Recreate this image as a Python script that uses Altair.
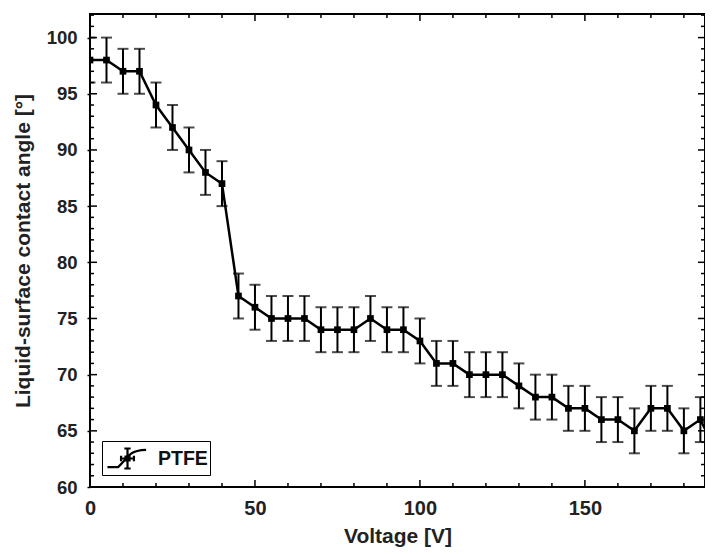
import altair as alt
import pandas as pd

# ---- data ----
voltage = list(range(0, 195, 5))
angle = [98, 98, 97, 97, 94, 92, 90, 88, 87,
         77, 76, 75, 75, 75, 74, 74, 74, 75, 74, 74,
         73, 71, 71, 70, 70, 70, 69, 68, 68, 67, 67,
         66, 66, 65, 67, 67, 65, 66, 63]
err = [2] * len(voltage)
series = ["PTFE"] * len(voltage)

x_labels = [0, 50, 100, 150]
y_labels = [60, 65, 70, 75, 80, 85, 90, 95, 100]
x_minor = [v for v in range(0, 190, 10) if v not in x_labels]
y_minor = [v for v in range(60, 103) if v not in y_labels]

X_DOMAIN = [0, 186.4]
Y_DOMAIN = [60, 102.1]
W, H = 615, 473
FONT = "Liberation Sans"

df = pd.DataFrame({"V": voltage, "A": angle, "E": err, "s": series})
df["lo"] = df["A"] - df["E"]
df["hi"] = df["A"] + df["E"]

xs = alt.Scale(domain=X_DOMAIN, nice=False, zero=False)
ys = alt.Scale(domain=Y_DOMAIN, nice=False, zero=False)

xaxis = alt.Axis(values=x_labels, title="Voltage [V]", ticks=False, tickSize=0,
                 domain=False, grid=False, labelFlush=False, labelPadding=11,
                 labelFontSize=20, titlePadding=7)
yaxis = alt.Axis(values=y_labels, title="Liquid-surface contact angle [°]",
                 ticks=True, tickSize=3, tickWidth=1.5, tickColor="black",
                 domain=False, grid=False, labelFontSize=18.5,
                 labelPadding=10, titlePadding=13)

base = alt.Chart(df)

err_rule = base.mark_rule(color="black", strokeWidth=2, clip=True).encode(
    x=alt.X("V:Q", scale=xs, axis=xaxis),
    y=alt.Y("lo:Q", scale=ys, axis=yaxis),
    y2="hi:Q",
)
cap_lo = base.mark_tick(color="black", orient="horizontal", size=11,
                        thickness=2, clip=True).encode(
    x=alt.X("V:Q", scale=xs), y=alt.Y("lo:Q", scale=ys))
cap_hi = base.mark_tick(color="black", orient="horizontal", size=11,
                        thickness=2, clip=True).encode(
    x=alt.X("V:Q", scale=xs), y=alt.Y("hi:Q", scale=ys))

legend_path = ("M-1.4,0.6L-0.65,0.6L0.2,-0.3Q0.6,-0.6 1.3,-0.6"
               "M0,-0.7L0,0.7M-0.22,-0.7L0.22,-0.7M-0.22,0.7L0.22,0.7"
               "M-0.45,0L0.45,0M-0.45,-0.2L-0.45,0.2M0.45,-0.2L0.45,0.2"
               "M-0.14,-0.14L0.14,-0.14L0.14,0.14L-0.14,0.14Z")

line = base.mark_line(strokeWidth=2.5, clip=True).encode(
    x=alt.X("V:Q", scale=xs),
    y=alt.Y("A:Q", scale=ys),
    color=alt.Color("s:N", scale=alt.Scale(range=["black"]),
                    legend=alt.Legend(
                        title=None, orient="bottom-left", offset=12,
                        padding=2, strokeColor="black", fillColor="white",
                        symbolType=legend_path, symbolSize=820,
                        symbolStrokeWidth=2.2, symbolStrokeColor="black",
                        symbolFillColor="transparent", symbolOffset=8,
                        labelFont=FONT, labelFontSize=19.5,
                        labelFontWeight="bold", labelColor="#111",
                        labelOffset=15,
                    )),
)
pts = base.mark_square(size=45, color="black", opacity=1, filled=True,
                       clip=True).encode(
    x=alt.X("V:Q", scale=xs), y=alt.Y("A:Q", scale=ys))

# ---- inward ticks on all four sides ----
def yticks(vals, length):
    d = pd.DataFrame({"t": vals})
    left = alt.Chart(d).mark_rule(color="black", strokeWidth=1.5).encode(
        y=alt.Y("t:Q", scale=ys), x=alt.value(0), x2=alt.value(length))
    right = alt.Chart(d).mark_rule(color="black", strokeWidth=1.5).encode(
        y=alt.Y("t:Q", scale=ys), x=alt.value(W - length), x2=alt.value(W))
    return left + right

def xticks(vals, length):
    d = pd.DataFrame({"t": vals})
    bottom = alt.Chart(d).mark_rule(color="black", strokeWidth=1.5).encode(
        x=alt.X("t:Q", scale=xs), y=alt.value(H), y2=alt.value(H - length))
    top = alt.Chart(d).mark_rule(color="black", strokeWidth=1.5).encode(
        x=alt.X("t:Q", scale=xs), y=alt.value(0), y2=alt.value(length))
    return bottom + top

chart = alt.layer(
    yticks(y_minor, 4), yticks(y_labels, 7), xticks(x_minor, 4), xticks(x_labels, 7),
    err_rule, cap_lo, cap_hi, line, pts,
).properties(
    width=W, height=H,
    autosize=alt.AutoSizeParams(type="none"),
    padding={"left": 82, "top": 6, "right": 0, "bottom": 64},
).configure_view(
    stroke="black", strokeWidth=2,
).configure_axis(
    labelFont=FONT, labelFontWeight="bold", labelColor="#222",
    titleFont=FONT, titleFontSize=21, titleFontWeight="bold", titleColor="#222",
)

chart.save("out.html", embed_options={"renderer": "svg", "actions": False})
